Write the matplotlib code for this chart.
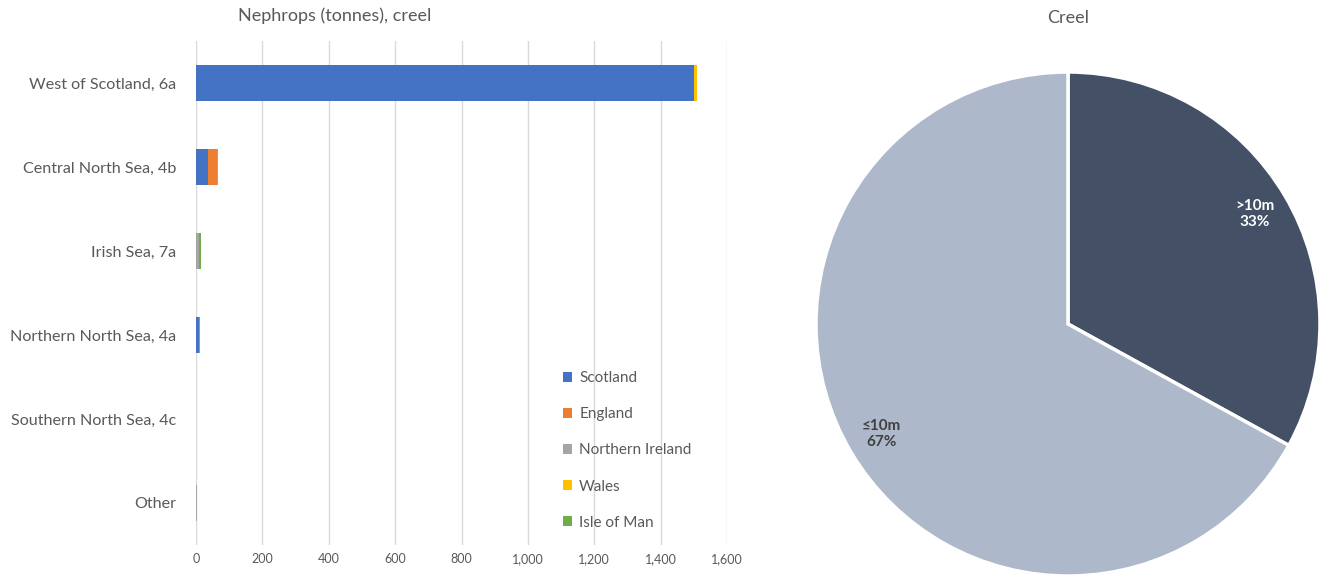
import matplotlib
matplotlib.use("Agg")
import matplotlib.pyplot as plt
import numpy as np

plt.rcParams['font.family'] = ['Lato', 'DejaVu Sans']

categories = ["West of Scotland, 6a", "Central North Sea, 4b", "Irish Sea, 7a",
              "Northern North Sea, 4a", "Southern North Sea, 4c", "Other"]
series_names = ["Scotland", "England", "Northern Ireland", "Wales", "Isle of Man"]
scotland = [1500, 37, 0.5, 8, 0, 0]
england = [0, 25, 0, 5, 1, 1]
northern_ireland = [0, 3, 9, 0, 0, 1]
wales = [9, 0, 0, 0, 0, 0]
isle_of_man = [0, 0, 6, 0, 0, 0]
series_values = [scotland, england, northern_ireland, wales, isle_of_man]
series_colors = ["#4472C4", "#ED7D31", "#A5A5A5", "#FFC000", "#70AD47"]
x_ticks = [0, 200, 400, 600, 800, 1000, 1200, 1400, 1600]

pie_labels = [">10m", "≤10m"]
pie_values = [33, 67]
pie_colors = ["#435066", "#ADB9CA"]

txt = "#595959"
W, H = 1326, 576
fig = plt.figure(figsize=(W / 100, H / 100), dpi=100)

# Bar chart
ax = fig.add_axes([196 / W, 1 - 545 / H, (727 - 196) / W, (545 - 41) / H])
y = np.arange(len(categories))
left = np.zeros(len(categories))
for name, vals, col in zip(series_names, series_values, series_colors):
    ax.barh(y, vals, left=left, height=0.42, color=col, label=name, zorder=3)
    left += np.array(vals)
ax.set_ylim(len(categories) - 0.5, -0.5)
ax.set_yticks(y)
ax.set_yticklabels(categories, fontsize=11.6, color=txt)
ax.set_xlim(0, 1600)
ax.set_xticks(x_ticks)
ax.set_xticklabels([f"{v:,}" for v in x_ticks], fontsize=9, color=txt)
ax.grid(axis='x', color='#D9D9D9', linewidth=1, zorder=0)
for s in ax.spines.values():
    s.set_visible(False)
ax.tick_params(axis='both', length=0)
ax.tick_params(axis='y', pad=14)
ax.tick_params(axis='x', pad=6)
leg = ax.legend(loc='upper left', bbox_to_anchor=((557 - 196) / (727 - 196), (545 - 365) / (545 - 41)),
                frameon=False, fontsize=11, labelcolor=txt, handlelength=0.6, handleheight=0.6,
                handletextpad=0.45, labelspacing=1.45, borderaxespad=0)
fig.text(335 / W, 1 - 16 / H, "Nephrops (tonnes), creel", ha='center', va='center',
         fontsize=13, color=txt)

# Pie chart
R = 252
cx, cy = 1068, 324
pax = fig.add_axes([(cx - R) / W, 1 - (cy + R) / H, 2 * R / W, 2 * R / H])
labels = [f"{l}\n{v}%" for l, v in zip(pie_labels, pie_values)]
wedges, texts = pax.pie(pie_values, colors=pie_colors, startangle=90, counterclock=False,
                        labels=labels, labeldistance=0.86,
                        wedgeprops=dict(edgecolor='white', linewidth=2.5))
for t, c in zip(texts, ['white', '#404040']):
    t.set_color(c)
    t.set_fontweight('bold')
    t.set_fontsize(11)
    t.set_ha('center')
    t.set_va('center')
pax.set_xlim(-1.0, 1.0)
pax.set_ylim(-1.0, 1.0)
pax.set_aspect('equal')
pax.axis('off')
fig.text(cx / W, 1 - 18 / H, "Creel", ha='center', va='center', fontsize=13, color=txt)

fig.savefig("out.png", dpi=100)
